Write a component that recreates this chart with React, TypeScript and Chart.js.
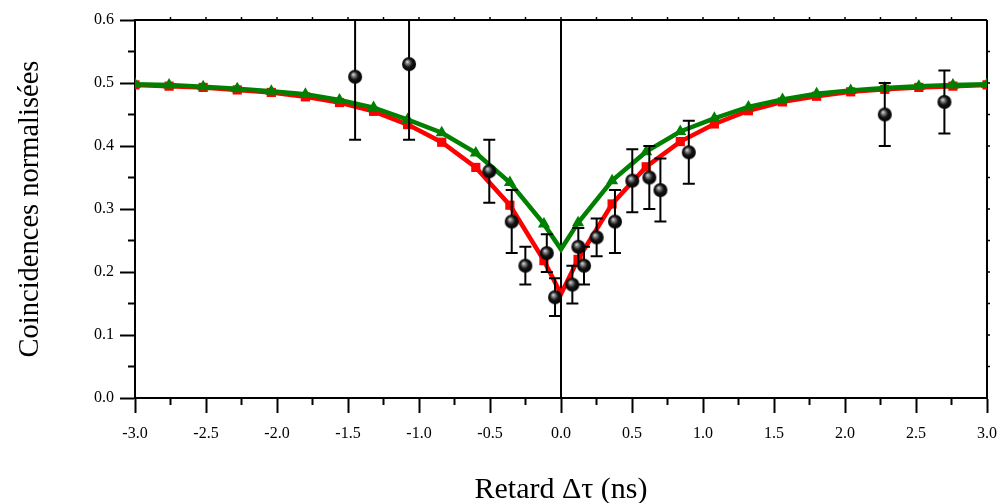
import React, { useEffect, useRef } from "react";
import { Chart, registerables } from "chart.js";

Chart.register(...registerables);

// Theoretical curves (markers every 0.24 ns, plus the cusp at 0 without marker)
const curveX = [-3, -2.76, -2.52, -2.28, -2.04, -1.8, -1.56, -1.32, -1.08, -0.84, -0.6, -0.36, -0.12, 0, 0.12, 0.36, 0.6, 0.84, 1.08, 1.32, 1.56, 1.8, 2.04, 2.28, 2.52, 2.76, 3];
const redY = [0.497, 0.495, 0.493, 0.489, 0.485, 0.478, 0.469, 0.455, 0.434, 0.406, 0.366, 0.306, 0.218, 0.165, 0.220, 0.308, 0.367, 0.407, 0.435, 0.456, 0.470, 0.479, 0.486, 0.490, 0.493, 0.495, 0.497];
const greenY = [0.498, 0.497, 0.494, 0.491, 0.487, 0.482, 0.473, 0.461, 0.442, 0.421, 0.389, 0.342, 0.276, 0.236, 0.278, 0.345, 0.391, 0.423, 0.444, 0.462, 0.474, 0.483, 0.488, 0.492, 0.495, 0.497, 0.498];

// Measured points
const dotX = [-1.45, -1.07, -0.505, -0.347, -0.251, -0.10, -0.042, 0.08, 0.122, 0.162, 0.251, 0.38, 0.502, 0.622, 0.70, 0.90, 2.28, 2.70];
const dotY = [0.51, 0.53, 0.36, 0.28, 0.21, 0.23, 0.16, 0.18, 0.24, 0.21, 0.255, 0.28, 0.345, 0.35, 0.33, 0.39, 0.45, 0.47];
const dotErr = [0.10, 0.12, 0.05, 0.05, 0.03, 0.03, 0.03, 0.03, 0.03, 0.03, 0.03, 0.05, 0.05, 0.05, 0.05, 0.05, 0.05, 0.05];

const xTitle = "Retard Δτ (ns)";
const yTitle = "Coincidences normalisées";

const SERIF = "'Liberation Serif', 'Times New Roman', serif";

function makeSphere(): HTMLCanvasElement {
  const c = document.createElement("canvas");
  c.width = 16;
  c.height = 16;
  const g = c.getContext("2d")!;
  const grad = g.createRadialGradient(6, 5.5, 0, 8, 8, 7.5);
  grad.addColorStop(0, "#e8e8e8");
  grad.addColorStop(0.22, "#8a8a8a");
  grad.addColorStop(0.55, "#151515");
  grad.addColorStop(1, "#000000");
  g.fillStyle = grad;
  g.beginPath();
  g.arc(8, 8, 7, 0, Math.PI * 2);
  g.fill();
  return c;
}

export default function App() {
  const ref = useRef<HTMLCanvasElement | null>(null);

  useEffect(() => {
    if (!ref.current) return;
    const sphere = makeSphere();

    const decorPlugin = {
      id: "decor",
      beforeDatasetsDraw(chart: any) {
        const { ctx, chartArea } = chart;
        const xs = chart.scales.x;
        const ys = chart.scales.y;
        const { left, right, top, bottom } = chartArea;
        ctx.save();
        ctx.strokeStyle = "#000";
        ctx.lineWidth = 2;
        // top & right border
        ctx.beginPath();
        ctx.moveTo(left, top);
        ctx.lineTo(right, top);
        ctx.moveTo(right, top);
        ctx.lineTo(right, bottom);
        ctx.stroke();
        // minor ticks
        ctx.beginPath();
        for (let i = 0; i < 6; i++) {
          const py = ys.getPixelForValue(0.05 + i * 0.1);
          ctx.moveTo(left - 7, py);
          ctx.lineTo(left, py);
        }
        for (let i = 0; i < 12; i++) {
          const px = xs.getPixelForValue(-2.75 + i * 0.5);
          ctx.moveTo(px, bottom);
          ctx.lineTo(px, bottom + 7);
        }
        ctx.stroke();
        // tiny ticks on top and right borders
        ctx.lineWidth = 1.5;
        ctx.beginPath();
        for (let i = 1; i < 24; i++) {
          const px = xs.getPixelForValue(-3 + i * 0.25);
          ctx.moveTo(px, top);
          ctx.lineTo(px, top - 3);
        }
        for (let i = 1; i < 12; i++) {
          const py = ys.getPixelForValue(i * 0.05);
          ctx.moveTo(right, py);
          ctx.lineTo(right + 3, py);
        }
        ctx.stroke();
        // vertical zero line
        ctx.lineWidth = 2;
        ctx.beginPath();
        const x0 = xs.getPixelForValue(0);
        ctx.moveTo(x0, top);
        ctx.lineTo(x0, bottom);
        ctx.stroke();
        ctx.restore();
      },
      afterDatasetDraw(chart: any, args: any) {
        if (args.index !== 1) return;
        const { ctx, chartArea } = chart;
        const xs = chart.scales.x;
        const ys = chart.scales.y;
        ctx.save();
        ctx.beginPath();
        ctx.rect(chartArea.left, chartArea.top, chartArea.right - chartArea.left, chartArea.bottom - chartArea.top);
        ctx.clip();
        ctx.strokeStyle = "#000";
        ctx.lineWidth = 2;
        ctx.beginPath();
        for (let i = 0; i < dotX.length; i++) {
          const px = xs.getPixelForValue(dotX[i]);
          const pt = ys.getPixelForValue(dotY[i] + dotErr[i]);
          const pb = ys.getPixelForValue(dotY[i] - dotErr[i]);
          ctx.moveTo(px, pt);
          ctx.lineTo(px, pb);
          ctx.moveTo(px - 6, pt);
          ctx.lineTo(px + 6, pt);
          ctx.moveTo(px - 6, pb);
          ctx.lineTo(px + 6, pb);
        }
        ctx.stroke();
        ctx.restore();
      },
    };

    const radii = curveX.map((x) => (x === 0 ? 0 : 6.5));
    const triRadii = curveX.map((x) => (x === 0 ? 0 : 7));

    const chart = new Chart(ref.current, {
      type: "scatter",
      data: {
        datasets: [
          {
            label: "mesures",
            data: dotX.map((x, i) => ({ x, y: dotY[i] })),
            pointStyle: sphere as any,
            pointRadius: 7,
            showLine: false,
            order: 0,
          },
          {
            label: "vert",
            data: curveX.map((x, i) => ({ x, y: greenY[i] })),
            showLine: true,
            borderColor: "#008000",
            backgroundColor: "#008000",
            borderWidth: 4.5,
            pointStyle: "triangle",
            pointRadius: triRadii,
            pointBorderWidth: 0,
            tension: 0,
            order: 1,
          },
          {
            label: "rouge",
            data: curveX.map((x, i) => ({ x, y: redY[i] })),
            showLine: true,
            borderColor: "#ff0000",
            backgroundColor: "#ff0000",
            borderWidth: 4.5,
            pointStyle: "rect",
            pointRadius: radii,
            pointBorderWidth: 0,
            tension: 0,
            order: 2,
          },
        ],
      },
      options: {
        responsive: false,
        animation: false,
        layout: { padding: { top: 20, right: 11, left: 0, bottom: 0 } },
        plugins: {
          legend: { display: false },
          tooltip: { enabled: false },
        },
        scales: {
          x: {
            type: "linear",
            min: -3,
            max: 3,
            border: { display: true, color: "#000", width: 2 },
            grid: { drawOnChartArea: false, drawTicks: true, tickLength: 15, tickWidth: 2, tickColor: "#000" },
            ticks: {
              stepSize: 0.5,
              color: "#000",
              padding: 11,
              maxRotation: 0,
              font: { family: SERIF, size: 16 },
              callback: (v: any) => Number(v).toFixed(1),
            },
            title: {
              display: true,
              text: xTitle,
              color: "#000",
              font: { family: SERIF, size: 30, lineHeight: 1 },
              padding: { top: 0, bottom: -2 },
            },
            afterFit: (s: any) => {
              s.height = 105;
              s.paddingLeft = 0;
              s.paddingRight = 0;
            },
          },
          y: {
            type: "linear",
            min: 0,
            max: 0.6,
            border: { display: true, color: "#000", width: 2 },
            grid: { drawOnChartArea: false, drawTicks: true, tickLength: 15, tickWidth: 2, tickColor: "#000" },
            ticks: {
              stepSize: 0.1,
              color: "#000",
              padding: 6,
              font: { family: SERIF, size: 16 },
              callback: (v: any) => Number(v).toFixed(1),
            },
            title: {
              display: true,
              text: yTitle,
              color: "#000",
              font: { family: SERIF, size: 28.5, lineHeight: 1.2 },
              padding: { top: 13, bottom: 0 },
            },
            afterFit: (s: any) => {
              s.width = 135;
              s.paddingTop = 0;
              s.paddingBottom = 0;
            },
          },
        },
      },
      plugins: [decorPlugin],
    });
    return () => chart.destroy();
  }, []);

  return (
    <div style={{ position: "fixed", left: 0, top: 0, width: 998, height: 503, background: "#fff" }}>
      <canvas ref={ref} width={998} height={503} style={{ width: 998, height: 503 }} />
    </div>
  );
}
